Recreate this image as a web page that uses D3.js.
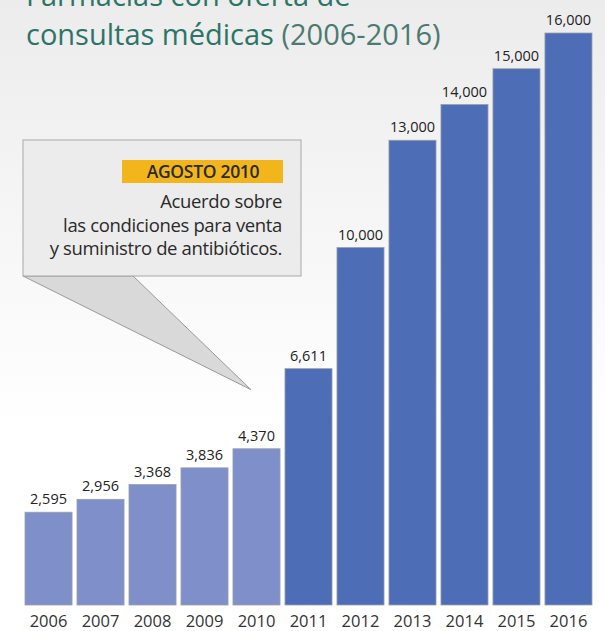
<!DOCTYPE html>
<html>
<head>
<meta charset="utf-8">
<script src="https://cdn.jsdelivr.net/npm/d3@7"></script>
<style>
    body { margin: 0; }
    svg { display: block; font-family: "Open Sans", sans-serif; }
</style>
</head>
<body>
<div id="chart"></div>
<script>
const years = ["2006", "2007", "2008", "2009", "2010", "2011", "2012", "2013", "2014", "2015", "2016"];
const farmacias = [2595, 2956, 3368, 3836, 4370, 6611, 10000, 13000, 14000, 15000, 16000];
const titleLines = ["Farmacias con oferta de", "consultas médicas"];
const titleYears = "(2006-2016)";
const noteDate = "AGOSTO 2010";
const noteLines = ["Acuerdo sobre", "las condiciones para venta", "y suministro de antibióticos."];

const width = 605, height = 631;
const margin = { top: 33, right: 13, bottom: 26, left: 25 };

const svg = d3.select("#chart").append("svg")
    .attr("width", width)
    .attr("height", height);

const grad = svg.append("defs").append("linearGradient")
    .attr("id", "bg").attr("x1", 0).attr("y1", 0).attr("x2", 0).attr("y2", 1);
grad.append("stop").attr("offset", "0%").attr("stop-color", "#ececec");
grad.append("stop").attr("offset", "68%").attr("stop-color", "#ffffff");
svg.append("rect").attr("width", width).attr("height", height).attr("fill", "url(#bg)");

const x = d3.scaleBand()
    .domain(years)
    .range([margin.left, width - margin.right])
    .paddingInner(0.095)
    .paddingOuter(0);

const y = d3.scaleLinear()
    .domain([0, 16000])
    .range([height - margin.bottom, margin.top]);

// title (first line runs off the top, as in the original)
const title = svg.append("text").attr("x", 26).attr("fill", "#2c7566").attr("font-size", 29);
title.append("tspan").attr("x", 26).attr("y", 6).text(titleLines[0]);
title.append("tspan").attr("x", 26).attr("y", 45).text(titleLines[1] + " ");
title.append("tspan").attr("fill", "#4c7a72").text(titleYears);

// bars
svg.append("g").selectAll("rect")
    .data(farmacias)
    .join("rect")
    .attr("x", (d, i) => x(years[i]))
    .attr("y", d => y(d))
    .attr("width", x.bandwidth())
    .attr("height", d => y(0) - y(d))
    .attr("fill", (d, i) => +years[i] <= 2010 ? "#7f8fca" : "#4d6eb6")
    .attr("stroke", "#9a9eaa")
    .attr("stroke-width", 0.8);

svg.append("g").selectAll("text")
    .data(farmacias)
    .join("text")
    .attr("x", (d, i) => x(years[i]) + x.bandwidth() / 2)
    .attr("y", d => y(d) - 8)
    .attr("text-anchor", "middle")
    .attr("font-size", 14.5)
    .attr("fill", "#222")
    .text(d => d3.format(",")(d));

const xAxis = svg.append("g")
    .attr("transform", `translate(0, ${y(0)})`)
    .call(d3.axisBottom(x).tickSize(0).tickPadding(10));
xAxis.select(".domain").remove();
xAxis.selectAll("text")
    .attr("font-size", 16.5)
    .attr("font-family", "Open Sans, sans-serif")
    .attr("fill", "#333");

// callout
const note = svg.append("g");
const tip = [x("2010") + 18, y(6611) + 21];
note.append("path")
    .attr("d", `M23,276 L133,276 L${tip[0]},${tip[1]} Z`)
    .attr("fill", "#d9d9d9")
    .attr("stroke", "#9a9a9a");
note.append("rect")
    .attr("x", 23).attr("y", 140)
    .attr("width", 278).attr("height", 136)
    .attr("fill", "#ececec")
    .attr("stroke", "#a8a8a8");
note.append("rect")
    .attr("x", 122).attr("y", 160)
    .attr("width", 161).attr("height", 23)
    .attr("fill", "#f2b51c");
note.append("text")
    .attr("x", 203).attr("y", 178)
    .attr("text-anchor", "middle")
    .attr("font-size", 17.5)
    .attr("font-weight", 600)
    .attr("letter-spacing", -0.3)
    .attr("fill", "#2a2a2a")
    .text(noteDate);
note.append("g").selectAll("text")
    .data(noteLines)
    .join("text")
    .attr("x", 282)
    .attr("y", (d, i) => 208 + i * 23.5)
    .attr("text-anchor", "end")
    .attr("font-size", 18.5)
    .attr("letter-spacing", -0.35)
    .attr("fill", "#2a2a2a")
    .text(d => d);
</script>
</body>
</html>
